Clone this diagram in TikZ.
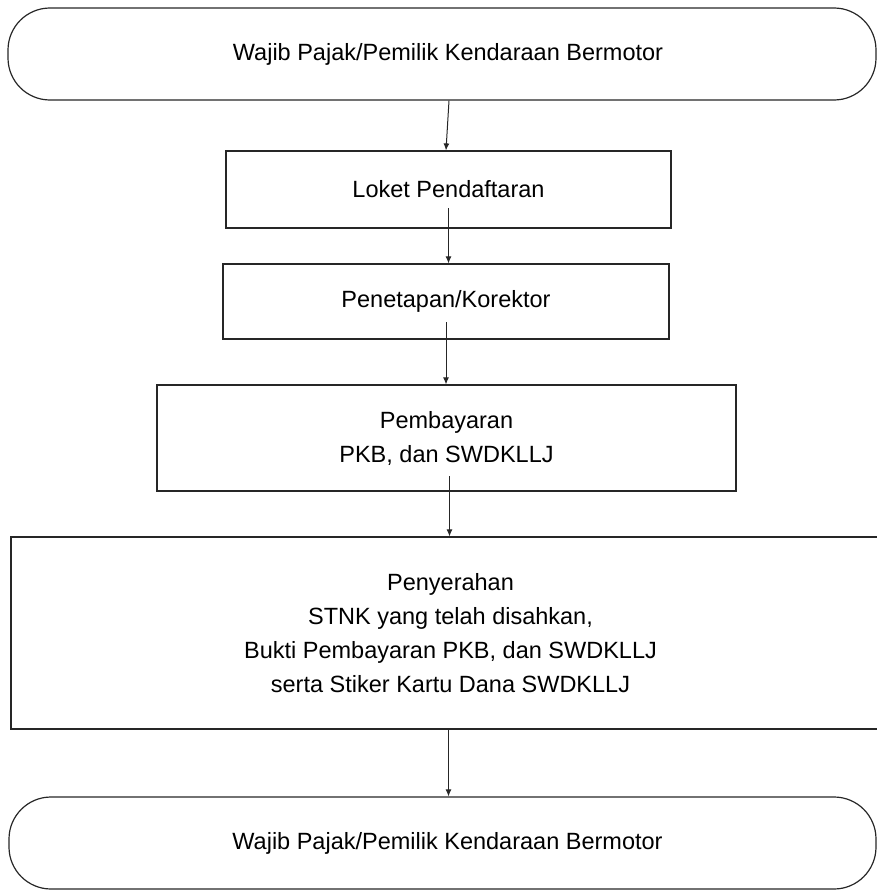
\documentclass[tikz,border=0pt]{standalone}
\usepackage{fontspec}
\setmainfont{Liberation Sans}
\usetikzlibrary{arrows.meta}
\tikzset{
  box/.style={draw=black!85, line width=1.2pt, inner sep=0pt, align=center,
    font=\fontsize{23.5}{34}\selectfont},
  term/.style={box, rounded corners=42pt},
  arr/.style={draw=black!85, line width=1pt, -{Latex[length=7pt,width=6pt]}}
}
\begin{document}
\begin{tikzpicture}[x=1pt,y=-1pt]
\useasboundingbox (0,0) rectangle (877,891);
\node[term, minimum width=868pt, minimum height=92pt] (t1) at (442,54)
  {\hspace*{12pt}Wajib Pajak/Pemilik Kendaraan Bermotor};
\node[box, minimum width=445pt, minimum height=77pt] (loket) at (448.5,189.5)
  {Loket Pendaftaran};
\node[box, minimum width=446pt, minimum height=75pt] (pen) at (446,301.5)
  {Penetapan/Korektor};
\node[box, minimum width=579pt, minimum height=106pt] (bayar) at (446.5,438)
  {Pembayaran\\PKB, dan SWDKLLJ};
\node[box, minimum width=879pt, minimum height=192pt] (serah) at (450.5,633)
  {Penyerahan\\STNK yang telah disahkan,\\Bukti Pembayaran PKB, dan SWDKLLJ\\serta Stiker Kartu Dana SWDKLLJ};
\node[term, minimum width=867pt, minimum height=92pt] (t2) at (442.5,843)
  {\hspace*{10pt}Wajib Pajak/Pemilik Kendaraan Bermotor};
\draw[arr] ([xshift=7pt]t1.south) -- ([xshift=-2.5pt]loket.north);
\coordinate (s2) at ([yshift=-18.5pt]loket.center);
\draw[arr] (s2) -- (s2 |- pen.north);
\coordinate (s3) at ([yshift=-20.5pt]pen.center);
\draw[arr] (s3) -- (s3 |- bayar.north);
\coordinate (s4) at ([xshift=3pt,yshift=-38pt]bayar.center);
\draw[arr] (s4) -- (s4 |- serah.north);
\coordinate (s5) at ([xshift=-2pt]serah.south);
\draw[arr] (s5) -- (s5 |- t2.north);
\end{tikzpicture}
\end{document}
